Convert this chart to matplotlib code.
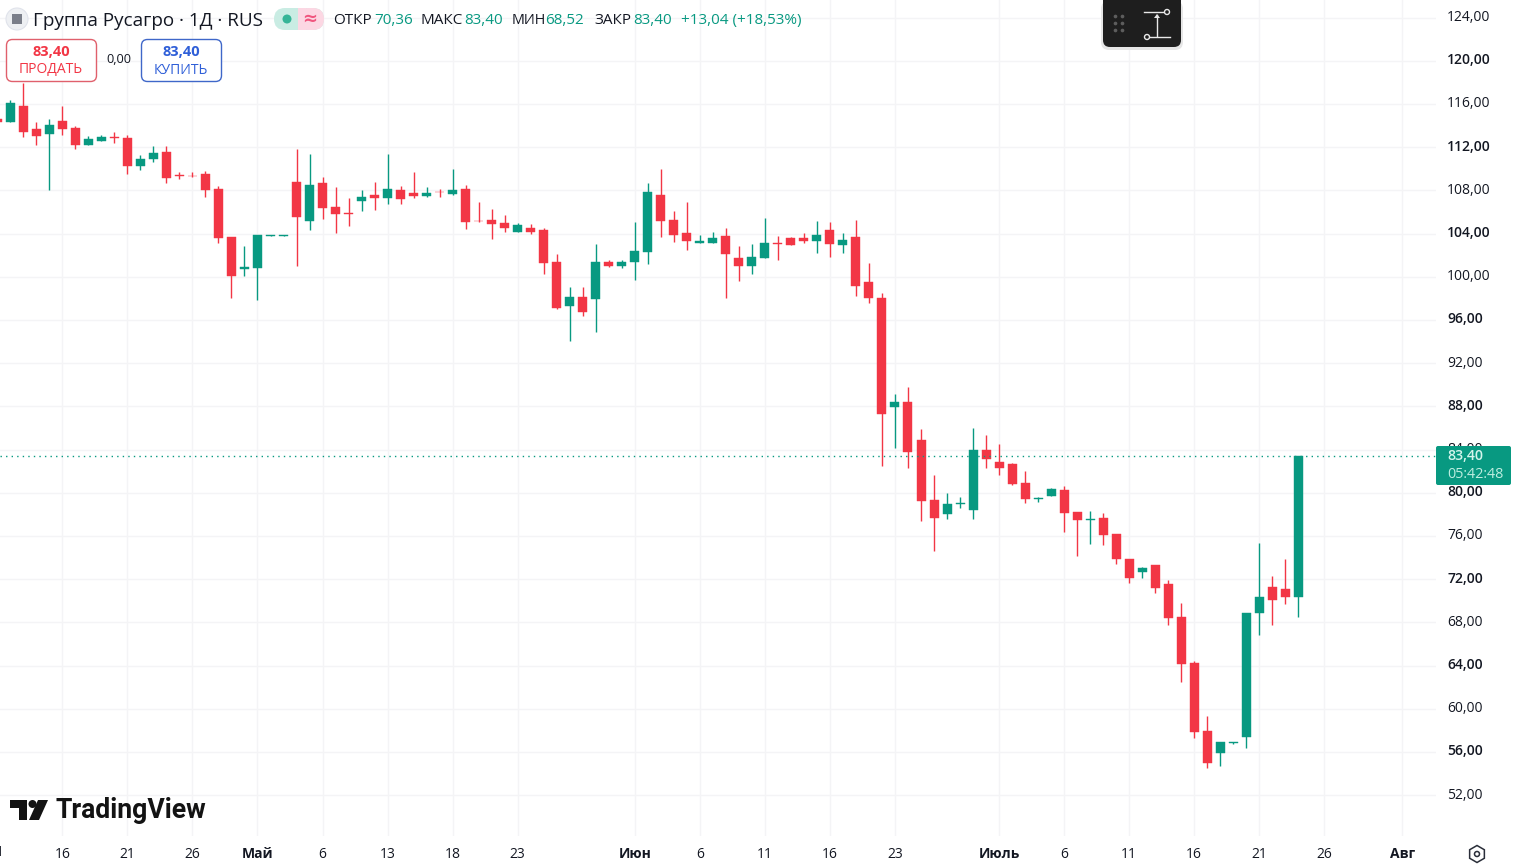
import matplotlib
matplotlib.use("Agg")
import matplotlib.pyplot as plt
from matplotlib.patches import FancyBboxPatch, Circle, Polygon, RegularPolygon
from matplotlib.transforms import ScaledTranslation
import numpy as np

plt.rcParams['font.family'] = ['Open Sans', 'Noto Sans', 'DejaVu Sans']

# daily candles, first one is cut by the left edge
day = list(range(-1, 100))
opens = [114.60, 114.35, 115.80, 113.67, 113.24, 114.41, 113.77, 112.22, 112.59, 112.90, 112.84,
         110.28, 110.90, 111.54, 109.38, 109.35, 109.51, 108.12, 103.67, 100.74, 100.83, 103.77,
         103.80, 108.77, 105.19, 108.67, 106.45, 105.89, 107.01, 107.56, 107.31, 108.02, 107.75,
         107.47, 107.87, 107.65, 108.12, 105.19, 105.28, 104.97, 104.17, 104.51, 104.32, 101.36,
         97.32, 98.12, 97.97, 101.36, 100.99, 101.39, 102.32, 107.56, 105.25, 104.04, 103.15,
         103.15, 103.77, 101.73, 100.99, 101.73, 103.12, 103.58, 103.58, 103.30, 104.32, 102.93,
         103.67, 99.51, 98.02, 87.93, 88.39, 84.88, 79.32, 78.05, 78.98, 78.42, 83.95,
         82.84, 82.65, 80.89, 79.41, 79.72, 80.25, 78.21, 77.50, 77.66, 76.18, 73.86,
         72.66, 73.31, 71.55, 68.49, 64.23, 57.94, 55.93, 56.83, 57.41, 68.89, 71.27,
         71.08, 70.36]
highs = [114.70, 116.36, 117.90, 114.32, 114.60, 115.80, 113.95, 113.02, 113.09, 113.40, 113.12,
         111.27, 112.10, 112.10, 109.66, 109.69, 109.75, 108.36, 103.67, 102.84, 103.86, 103.83,
         103.83, 111.82, 111.36, 109.20, 108.30, 107.28, 108.00, 108.77, 111.36, 108.36, 109.66,
         108.30, 108.12, 109.97, 108.46, 106.91, 106.27, 105.71, 104.94, 104.85, 104.48, 102.07,
         99.04, 99.04, 103.03, 101.51, 101.51, 105.06, 108.67, 109.97, 106.08, 106.92, 103.86,
         104.14, 104.48, 102.84, 103.03, 105.43, 103.77, 103.67, 104.04, 105.16, 105.06, 104.04,
         105.25, 101.27, 98.46, 89.13, 89.78, 85.89, 81.63, 79.97, 79.60, 85.99, 85.34,
         84.50, 82.75, 82.00, 79.60, 80.43, 80.62, 78.21, 78.31, 78.12, 76.18, 73.86,
         73.12, 73.31, 71.92, 69.79, 64.42, 59.32, 56.92, 56.92, 68.86, 75.34, 72.29,
         73.86, 83.40]
lows = [114.20, 114.35, 112.96, 112.22, 108.02, 113.15, 111.85, 112.22, 112.53, 112.41, 109.54,
        109.91, 110.65, 108.70, 109.04, 109.23, 107.41, 103.15, 98.06, 100.06, 97.87, 103.77,
        103.80, 100.99, 104.32, 105.37, 104.07, 104.69, 106.11, 106.20, 106.76, 106.76, 107.31,
        107.41, 107.41, 107.56, 104.44, 105.09, 103.52, 104.17, 104.17, 103.98, 100.28, 97.04,
        94.08, 96.39, 94.91, 100.90, 100.84, 99.72, 101.20, 103.67, 103.21, 102.50, 103.15,
        103.15, 98.06, 99.63, 100.25, 101.73, 101.54, 102.93, 103.15, 102.19, 101.82, 102.19,
        98.21, 97.56, 82.50, 84.17, 82.31, 77.41, 74.63, 77.59, 78.61, 77.59, 82.31,
        81.67, 80.74, 79.07, 79.17, 79.72, 76.39, 74.17, 75.28, 75.19, 73.43, 71.67,
        72.13, 70.74, 67.78, 62.50, 57.32, 54.54, 54.73, 56.76, 56.39, 66.86, 67.78,
        69.73, 68.52]
closes = [114.30, 116.08, 113.43, 113.06, 114.04, 113.70, 112.22, 112.75, 112.93, 112.84, 110.28,
          110.90, 111.45, 109.17, 109.32, 109.29, 108.06, 103.61, 100.09, 100.86, 103.86, 103.83,
          103.83, 105.52, 108.49, 106.39, 105.80, 105.83, 107.38, 107.28, 108.12, 107.19, 107.47,
          107.75, 107.81, 108.02, 105.09, 105.12, 104.91, 104.54, 104.79, 104.17, 101.30, 97.13,
          98.12, 96.76, 101.36, 100.99, 101.36, 102.38, 107.84, 105.19, 103.86, 103.34, 103.30,
          103.58, 102.13, 100.99, 101.82, 103.12, 103.03, 102.93, 103.30, 103.86, 103.03, 103.40,
          99.14, 98.03, 87.31, 88.39, 83.76, 79.26, 77.68, 78.95, 79.04, 83.95, 83.15,
          82.31, 80.83, 79.44, 79.47, 80.34, 78.15, 77.50, 77.56, 76.08, 73.89, 72.13,
          73.03, 71.21, 68.43, 64.17, 57.87, 55.00, 56.92, 56.89, 68.86, 70.34, 70.10,
          70.37, 83.40]

price_ticks = [52, 56, 60, 64, 68, 72, 76, 80, 84, 88, 92, 96, 100, 104, 108, 112, 116, 120, 124]
date_pos = [4, 9, 14, 19, 24, 29, 34, 39, 48, 53, 58, 63, 68, 76, 81, 86, 91, 96, 101, 107]
date_labels = ['16', '21', '26', 'Май', '6', '13', '18', '23', 'Июн', '6', '11', '16', '23',
               'Июль', '6', '11', '16', '21', '26', 'Авг']
last_price = 83.40

GREEN = '#089981'
RED = '#F23645'
INK = '#131722'
W, H = 1514, 867

fig = plt.figure(figsize=(W / 100, H / 100), dpi=100, facecolor='white')
ax = fig.add_axes([0, 1 - 836 / H, 1436 / W, 836 / H])

# px = 10.3 + 13.01*i , py = 60.7 + (120-v)*10.8
ax.set_xlim(-10.3 / 13.01, (1436 - 10.3) / 13.01)
ax.set_ylim(120 - (836 - 60.7) / 10.8, 120 + 60.7 / 10.8)

day = np.array(day)
opens, highs, lows, closes = map(np.array, (opens, highs, lows, closes))
colors = np.where(closes >= opens, GREEN, RED)

ax.vlines(day, lows, highs, colors=colors, linewidth=1.0, zorder=3)
ax.bar(day, np.abs(closes - opens), bottom=np.minimum(opens, closes), width=9 / 13.01,
       color=colors, edgecolor=colors, linewidth=0.3, zorder=4)
ax.axhline(last_price, color=GREEN, linewidth=1.0, linestyle=(0, (1, 3)), zorder=5)

for s in ax.spines.values():
    s.set_visible(False)
ax.set_axisbelow(True)
ax.grid(True, color='#f4f4f6', linewidth=1.0)

ax.yaxis.tick_right()
ax.set_yticks(price_ticks)
ax.set_yticklabels(['%d,00' % p for p in price_ticks])
ax.tick_params(axis='y', length=0, pad=8, labelsize=10.0, labelcolor=INK)
# price labels sit 2px above their grid lines
up_2px = ScaledTranslation(0, 2 / 100, fig.dpi_scale_trans)
for p, lab in zip(price_ticks, ax.get_yticklabels()):
    lab.set_fontweight('semibold' if p % 8 == 0 else 'normal')
    lab.set_verticalalignment('center_baseline')
    lab.set_transform(lab.get_transform() + up_2px)

ax.set_xticks(date_pos)
ax.set_xticklabels(date_labels)
ax.tick_params(axis='x', length=0, pad=8, labelsize=10.0, labelcolor=INK)
for lab in ax.get_xticklabels():
    if not lab.get_text().isdigit():
        lab.set_fontweight('bold')

# screen furniture, drawn in pixel coordinates on top of the chart
ui = fig.add_axes([0, 0, 1, 1], facecolor='none')
ui.set_xlim(0, W)
ui.set_ylim(H, 0)
ui.axis('off')


def box(x0, y0, x1, y1, r, fc, ec='none', lw=1.0, z=6):
    p = FancyBboxPatch((x0 + r, y0 + r), x1 - x0 - 2 * r, y1 - y0 - 2 * r,
                       boxstyle='round,pad=%f,rounding_size=%f' % (r, r),
                       fc=fc, ec=ec, lw=lw, zorder=z)
    ui.add_patch(p)
    return p


def txt(x, y, s, color=INK, size=10.0, weight='normal', ha='left', z=8, family=None):
    ui.text(x, y, s, color=color, fontsize=size, fontweight=weight, ha=ha, va='center', zorder=z,
            family=family)


ui.text(0, 853, '1', color=INK, fontsize=10.0, ha='center', va='center')

# header
ui.add_patch(Circle((17, 19), 11, fc='#eef0f3', ec='#e0e3eb', lw=0.8, zorder=6))
ui.add_patch(plt.Rectangle((12, 14), 10, 10, fc='#7b7f8a', ec='none', zorder=7))
txt(33, 20.5, 'Группа Русагро · 1Д · RUS', size=13.55)

box(274, 8, 324, 30, 11, '#c9ece3')
box(298, 8, 324, 30, 11, '#fcd7e3')
ui.add_patch(plt.Rectangle((298, 8), 8, 22, fc='#fcd7e3', ec='none', zorder=6))
ui.add_patch(Circle((287, 19), 4.5, fc='#35b597', ec='none', zorder=7))
txt(310, 19, '≈', color='#f0567f', size=13, weight='bold', ha='center', family=['DejaVu Sans'])

txt(333, 20.5, 'ОТКР', size=11.0)
txt(374, 20.5, '70,36', color=GREEN, size=11.0)
txt(421, 20.5, 'МАКС', size=11.0)
txt(464, 20.5, '83,40', color=GREEN, size=11.0)
txt(512, 20.5, 'МИН', size=10.4)
txt(545, 20.5, '68,52', color=GREEN, size=11.0)
txt(594, 20.5, 'ЗАКР', size=11.0)
txt(633, 20.5, '83,40', color=GREEN, size=11.0)
txt(681, 20.5, '+13,04 (+18,53%)', color=GREEN, size=11.0)

# sell / buy
box(6.5, 39.5, 96.5, 81.5, 6, 'white', ec='#e0606c')
txt(51, 52.5, '83,40', color=RED, weight='bold', ha='center', size=10.5)
txt(51, 70, 'ПРОДАТЬ', color=RED, ha='center')
txt(119, 59.5, '0,00', size=9.2, ha='center')
box(141.5, 39.5, 221.5, 81.5, 6, 'white', ec='#3f67c9')
txt(181, 52.5, '83,40', color='#2f5fd8', weight='bold', ha='center', size=10.5)
txt(181, 70, 'КУПИТЬ', color='#2f5fd8', ha='center')

# floating ruler toolbar
box(1101, 1, 1183, 50, 8, '#e6e6e6', z=6)
box(1103, -8, 1181, 47, 7, '#1e1e1e', z=7)
ui.scatter([1115, 1122] * 3, [16, 16, 23, 23, 30, 30], s=7, color='#5d5d5d', linewidths=0, zorder=8)
ui.plot([1144, 1166], [12, 12], color='#e8e8e8', lw=1.0, zorder=8)
ui.plot([1148, 1170], [37, 37], color='#e8e8e8', lw=1.0, zorder=8)
ui.plot([1157, 1157], [15, 36], color='#e8e8e8', lw=1.0, zorder=8)
ui.add_patch(Polygon([[1154, 18], [1160, 18], [1157, 14]], fc='#e8e8e8', ec='none', zorder=8))
ui.add_patch(Circle((1167, 12), 2.5, fc='#1e1e1e', ec='#e8e8e8', lw=1.0, zorder=9))
ui.add_patch(Circle((1147, 37), 2.5, fc='#1e1e1e', ec='#e8e8e8', lw=1.0, zorder=9))

# last price tag
box(1436, 446, 1511, 485, 2, GREEN)
txt(1447, 456.5, '83,40', color='#d4f5ec', size=10.2, weight='semibold')
txt(1447, 475, '05:42:48', color='#bdeee0', size=10.4)

# logo
ui.add_patch(Polygon([[10, 800], [27, 800], [27, 820], [19, 820], [19, 808], [10, 808]],
                     fc='#131313', ec='none', zorder=6))
ui.add_patch(Circle((32.5, 804), 4, fc='#131313', ec='none', zorder=6))
ui.add_patch(Polygon([[38, 800], [48, 800], [39, 820], [29, 820]], fc='#131313', ec='none', zorder=6))
txt(56, 810.5, 'TradingView', color='#131313', size=19.2, weight='bold', family=['Roboto'])

# settings icon
ui.add_patch(RegularPolygon((1477, 854), 6, radius=8.5, fc='none', ec='#2a2e39', lw=1.1, zorder=6))
ui.add_patch(Circle((1477, 854), 2.5, fc='none', ec='#2a2e39', lw=1.1, zorder=6))

fig.savefig('out.png', dpi=100, facecolor='white')
